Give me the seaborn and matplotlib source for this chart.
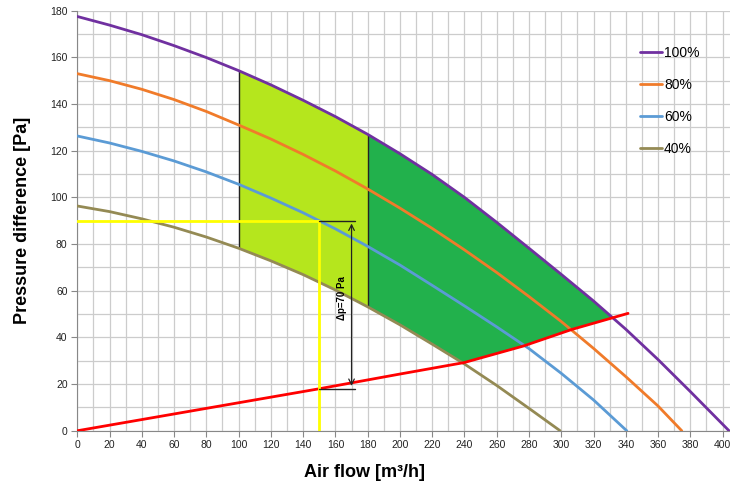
import numpy as np
import pandas as pd
import seaborn as sns
import matplotlib.pyplot as plt
from matplotlib.ticker import MultipleLocator

# fan curves (air flow m3/h -> pressure Pa)
flow_100 = [0, 20, 40, 60, 80, 100, 120, 140, 160, 180, 200, 220, 240, 260, 280, 300, 320, 340, 360, 380, 404]
dp_100 = [177.5, 173.8, 169.7, 165, 159.9, 154.3, 148.2, 141.6, 134.6, 127, 118.7, 109.8, 100,
          89.3, 78.2, 67, 55.6, 43.5, 30.5, 16.8, 0]
flow_80 = [0, 20, 40, 60, 80, 100, 120, 140, 160, 180, 200, 220, 240, 260, 280, 300, 320, 340, 360, 374.7]
dp_80 = [153, 150, 146.3, 141.9, 136.8, 131, 125, 118.4, 111.3, 103.6, 95.4, 86.7, 77.5, 67.8,
         57.5, 46.8, 35.3, 23.2, 10.6, 0]
flow_60 = [0, 20, 40, 60, 80, 100, 120, 140, 160, 180, 200, 220, 240, 260, 280, 300, 320, 340.6]
dp_60 = [126.3, 123.3, 119.7, 115.6, 110.9, 105.6, 99.7, 93.4, 86.5, 79, 71, 62.3, 53.5, 44.5,
         35.2, 24.6, 13.2, 0]
flow_40 = [0, 20, 40, 60, 80, 100, 120, 140, 160, 180, 200, 220, 240, 260, 280, 299.3]
dp_40 = [96.3, 93.9, 90.8, 87.2, 83, 78.2, 72.8, 66.9, 60.3, 53.1, 45.4, 37.1, 28.6, 19.4, 9.6, 0]

# system curve
flow_sys = [0, 50, 100, 150, 200, 239.7, 276.5, 306.5, 332.3, 341.4]
dp_sys = [0, 6, 12, 18, 24.3, 29.2, 36.3, 43.4, 48.5, 50.3]

labels = ['100%', '80%', '60%', '40%']
colors = ['#7030a0', '#f07b2a', '#5b9bd5', '#948a54']

curves = pd.concat([
    pd.DataFrame({'flow': flow_100, 'dp': dp_100, 'speed': '100%'}),
    pd.DataFrame({'flow': flow_80, 'dp': dp_80, 'speed': '80%'}),
    pd.DataFrame({'flow': flow_60, 'dp': dp_60, 'speed': '60%'}),
    pd.DataFrame({'flow': flow_40, 'dp': dp_40, 'speed': '40%'}),
])

sns.set_style('white')
plt.rcParams['font.family'] = ['Liberation Sans', 'DejaVu Sans']
plt.rcParams['text.color'] = 'black'
plt.rcParams['axes.labelcolor'] = 'black'

fig = plt.figure(figsize=(7.3, 4.84), dpi=100)
ax = fig.add_axes([0.1059, 0.110, 0.8941, 0.868])

# working area fills
xa = np.linspace(100, 180, 200)
ax.fill_between(xa, np.interp(xa, flow_40, dp_40), np.interp(xa, flow_100, dp_100),
                color='#b5e61d', zorder=2, lw=0)
xb = np.linspace(180, 332.3, 400)
low = np.maximum(np.interp(xb, flow_40, dp_40), np.interp(xb, flow_sys, dp_sys))
ax.fill_between(xb, low, np.interp(xb, flow_100, dp_100), color='#22b14c', zorder=2, lw=0)
ax.vlines([100, 180], [np.interp(100, flow_40, dp_40), np.interp(180, flow_40, dp_40)],
          [np.interp(100, flow_100, dp_100), np.interp(180, flow_100, dp_100)],
          color='#222222', lw=1, zorder=3)

sns.lineplot(data=curves, x='flow', y='dp', hue='speed', hue_order=labels,
             palette=colors, lw=2, sort=False, ax=ax, zorder=4)
ax.plot(flow_sys, dp_sys, color='#ff0000', lw=2, zorder=5)

# operating point
ax.plot([0, 150, 150], [90, 90, 0], color='#ffff00', lw=2, zorder=5)
ax.plot([150, 172], [90, 90], color='#222222', lw=1, zorder=5)
ax.plot([150, 172], [18, 18], color='#222222', lw=1, zorder=5)
ax.annotate('', xy=(170, 18), xytext=(170, 90),
            arrowprops=dict(arrowstyle='<->', color='#222222', lw=0.9), zorder=6)
ax.text(164, 57, 'Δp=70 Pa', rotation=90, ha='center', va='center', fontsize=7,
        fontweight='bold', zorder=6)

ax.set_xlim(0, 404.6)
ax.set_ylim(0, 180)
ax.xaxis.set_major_locator(MultipleLocator(20))
ax.xaxis.set_minor_locator(MultipleLocator(10))
ax.yaxis.set_major_locator(MultipleLocator(20))
ax.yaxis.set_minor_locator(MultipleLocator(10))
ax.grid(which='both', color='#cccccc', lw=0.9, zorder=0)
ax.set_axisbelow(True)
ax.tick_params(which='major', length=4, color='#888888', labelsize=7.5, labelcolor='#222222',
               bottom=True, left=True, pad=3)
ax.tick_params(which='minor', length=0)
for s in ['top', 'right']:
    ax.spines[s].set_visible(False)
for s in ['left', 'bottom']:
    ax.spines[s].set_color('#888888')

ax.set_xlabel('Air flow [m³/h]', fontsize=13, fontweight='bold')
ax.xaxis.set_label_coords(0.44, -0.078)
ax.set_ylabel('Pressure difference [Pa]', fontsize=13, fontweight='bold', labelpad=14)

ax.legend(loc='upper left', bbox_to_anchor=(0.853, 0.93), frameon=False, fontsize=10,
          handlelength=1.6, handletextpad=0.15, labelspacing=1.3, borderaxespad=0)

fig.savefig('out.png', dpi=100)
